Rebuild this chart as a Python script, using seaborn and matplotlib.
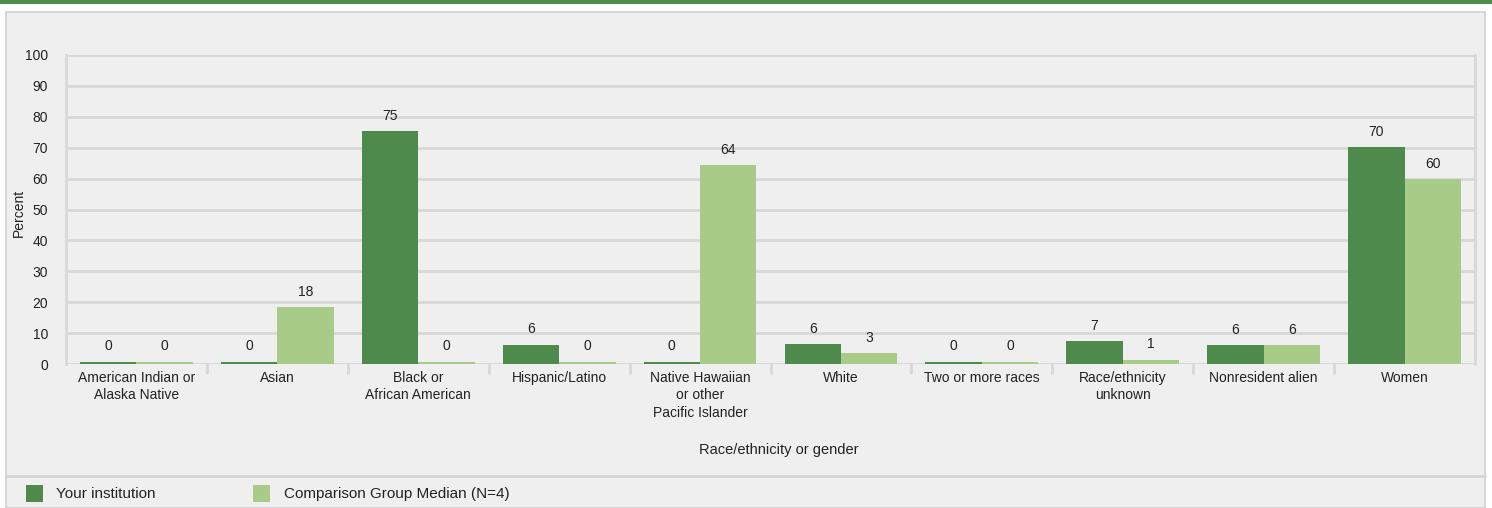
import numpy as np
import pandas as pd
import seaborn as sns
import matplotlib.pyplot as plt
from matplotlib.patches import Rectangle
from matplotlib.lines import Line2D

# Chart data
categories = [
    "American Indian or\nAlaska Native", "Asian", "Black or\nAfrican American",
    "Hispanic/Latino", "Native Hawaiian\nor other\nPacific Islander", "White",
    "Two or more races", "Race/ethnicity\nunknown", "Nonresident alien", "Women",
]
institution = [0, 0, 75.4, 6.3, 0, 6.4, 0, 7.4, 6.2, 70.2]
comparison = [0, 18.4, 0, 0, 64.4, 3.4, 0, 1.4, 6.2, 59.9]
series_names = ["Your institution", "Comparison Group Median (N=4)"]
yticks = [0, 10, 20, 30, 40, 50, 60, 70, 80, 90, 100]

DARK = "#4e8a4b"
LIGHT = "#a9cb88"
BG = "#efefef"
GRID = "#d8d8d8"
TXT = "#222222"

sns.set_theme(style="white")
plt.rcParams["font.family"] = ["Liberation Sans", "DejaVu Sans"]

df = pd.DataFrame({
    "category": categories * 2,
    "series": [series_names[0]] * len(categories) + [series_names[1]] * len(categories),
    "value": institution + comparison,
})
# zero values still show as a thin sliver in the original
df["shown"] = df["value"].clip(lower=0.8)

fig = plt.figure(figsize=(14.92, 5.08), dpi=100)
fig.patch.set_facecolor("white")

# outer panel, top rule and legend separator
fig.add_artist(Rectangle((6 / 1492, 0), 1479 / 1492, 1 - 12 / 508, transform=fig.transFigure,
                         facecolor=BG, edgecolor="#d0d0d0", lw=1.2, zorder=0))
fig.add_artist(Line2D([0, 1], [1 - 2 / 508, 1 - 2 / 508], transform=fig.transFigure,
                      color=DARK, lw=3))
fig.add_artist(Line2D([6 / 1492, 1485 / 1492], [1 - 476 / 508, 1 - 476 / 508],
                      transform=fig.transFigure, color="#d6d6d6", lw=2))

ax = fig.add_axes([66 / 1492, 1 - 364 / 508, 1409 / 1492, 309 / 508])
ax.set_facecolor(BG)

sns.barplot(data=df, x="category", y="shown", hue="series", hue_order=series_names,
            palette=[DARK, LIGHT], width=0.8, ax=ax, legend=False, saturation=1,
            linewidth=0, edgecolor="none")

for container, vals in zip(ax.containers, [institution, comparison]):
    labels = [f"{int(round(v))}" for v in vals]
    ax.bar_label(container, labels=labels, padding=6, fontsize=10, color=TXT)

ax.set_ylim(0, 100)
ax.set_yticks(yticks)
ax.set_xlim(-0.5, len(categories) - 0.5)
ax.yaxis.grid(True, color=GRID, lw=2)
ax.set_axisbelow(True)
for side in ["top", "bottom"]:
    ax.spines[side].set_visible(False)
for side in ["left", "right"]:
    ax.spines[side].set_color(GRID)
    ax.spines[side].set_linewidth(2)
ax.axhline(0, color=GRID, lw=2, zorder=0.5)

ax.tick_params(axis="y", length=0, labelsize=10, labelcolor=TXT, pad=13)
ax.tick_params(axis="x", length=0, labelsize=10, labelcolor=TXT, pad=5)
for lbl in ax.get_xticklabels():
    lbl.set_linespacing(1.3)
for b in np.arange(0.5, len(categories) - 1, 1):
    ax.plot([b, b], [0, -3], color=GRID, lw=2, clip_on=False)

ax.set_ylabel("")
ax.set_xlabel("")
fig.text(19 / 1492, 1 - 213 / 508, "Percent", fontsize=10, rotation=90,
         ha="center", va="center", color=TXT)
fig.text(779 / 1492, 1 - 450 / 508, "Race/ethnicity or gender", fontsize=10.5,
         ha="center", va="center", color=TXT)

# legend row
ly = 1 - 494 / 508
fig.add_artist(Rectangle((26 / 1492, ly - 8 / 508), 17 / 1492, 17 / 508, transform=fig.transFigure,
                         facecolor=DARK, edgecolor="none"))
fig.text(56 / 1492, ly, series_names[0], fontsize=11, va="center", color=TXT)
fig.add_artist(Rectangle((253 / 1492, ly - 8 / 508), 17 / 1492, 17 / 508, transform=fig.transFigure,
                         facecolor=LIGHT, edgecolor="none"))
fig.text(284 / 1492, ly, series_names[1], fontsize=11, va="center", color=TXT)

fig.savefig("out.png", dpi=100, facecolor=fig.get_facecolor())
